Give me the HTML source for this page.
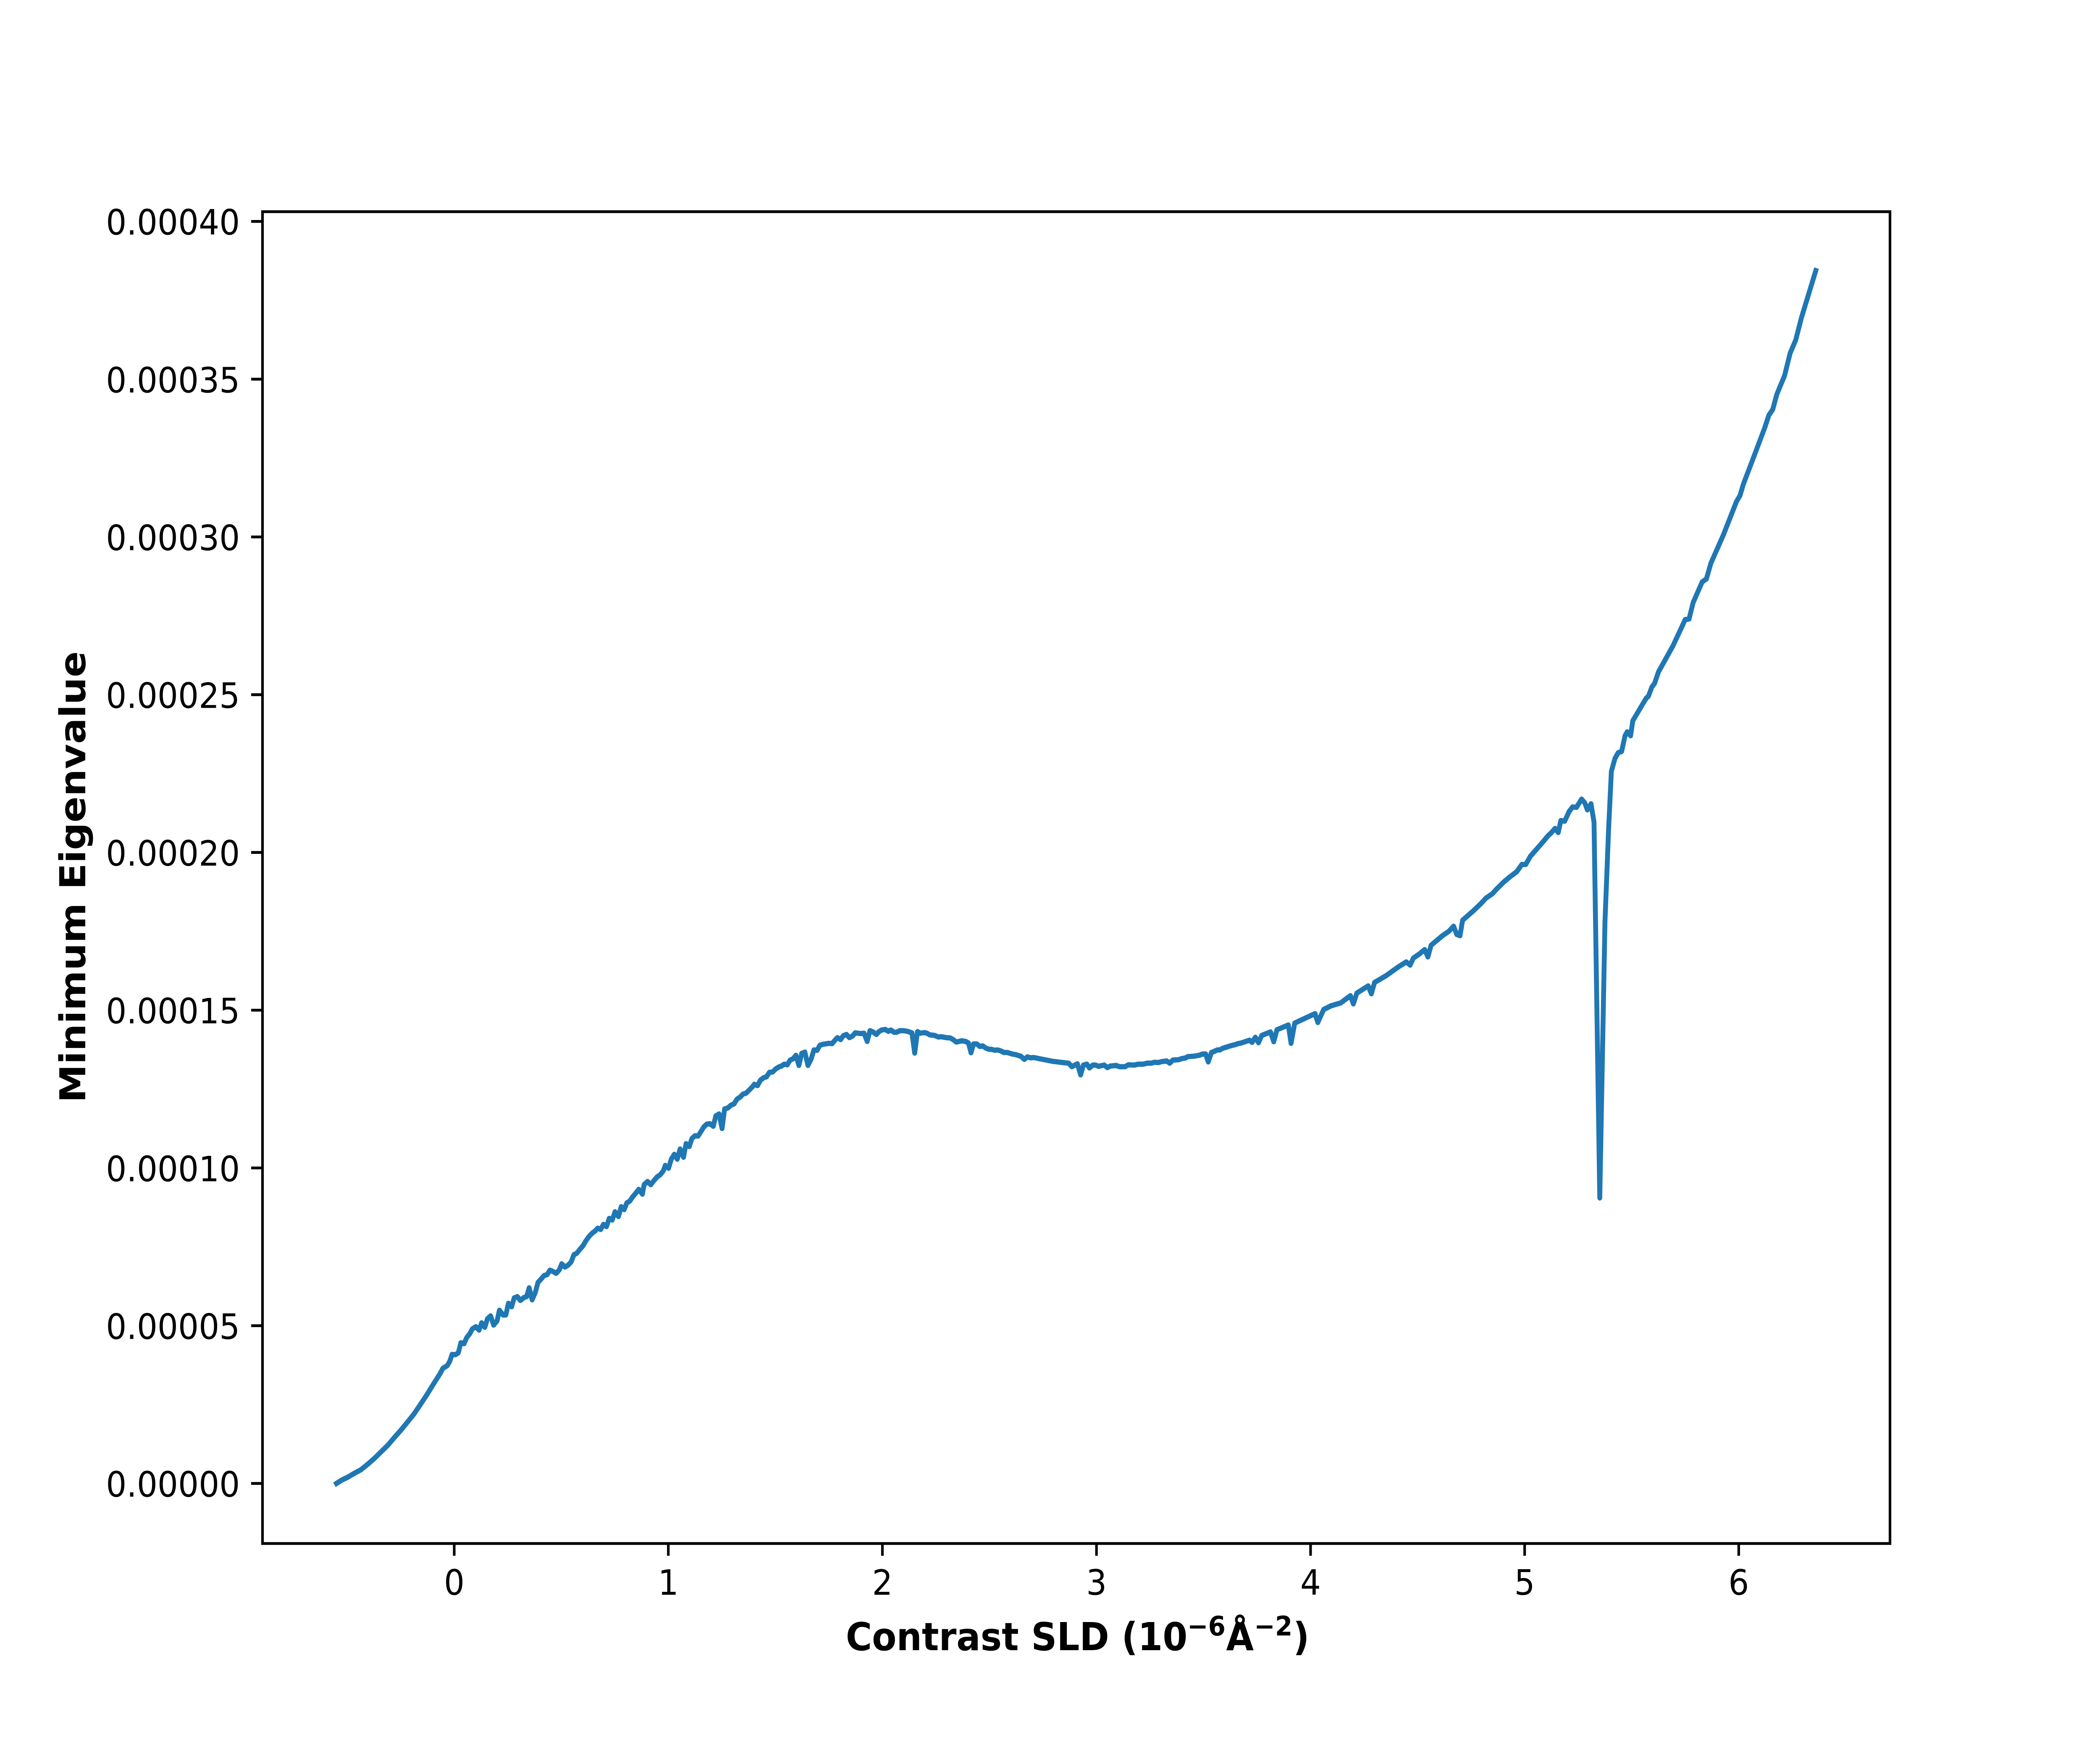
<!DOCTYPE html>
<html lang="en">
<head>
<meta charset="utf-8">
<title>Minimum Eigenvalue vs Contrast SLD</title>
<style>
html,body{margin:0;padding:0;background:#fff;width:100%;height:100%;overflow:hidden}
svg{position:absolute;left:0;top:0;display:block;width:100%;height:100%;overflow:hidden}
text{font-family:"DejaVu Sans","Liberation Sans",sans-serif;fill:#000}
</style>
</head>
<body>
<svg id="chart" xmlns="http://www.w3.org/2000/svg" viewBox="0 0 5400 4200" preserveAspectRatio="none">
<rect x="0" y="0" width="5400" height="4200" fill="#ffffff"/>
<g id="x-ticks"></g>
<g id="y-ticks"></g>
<path id="series" fill="none" stroke="#1f77b4" stroke-width="12.5" stroke-linejoin="round" stroke-linecap="square"/>
<rect x="675" y="504" width="4185" height="3171" fill="none" stroke="#000" stroke-width="6.67" stroke-linejoin="miter"/>
<text y="3929" font-size="91.67" font-weight="700"><tspan x="2175">Contrast SLD (10</tspan><tspan x="3053" dy="-35" font-size="64.17">−6</tspan><tspan x="3153" dy="35">Å</tspan><tspan x="3225" dy="-35" font-size="64.17">−2</tspan><tspan x="3325" dy="35">)</tspan></text>
<text transform="translate(219,2088) rotate(-90)" text-anchor="middle" font-size="91.67" font-weight="700">Minimum Eigenvalue</text>
</svg>
<script>
const xTickValues = [0, 1, 2, 3, 4, 5, 6];
const xTickLabels = ["0", "1", "2", "3", "4", "5", "6"];
const yTickValues = [0, 5, 10, 15, 20, 25, 30, 35, 40];
const yTickLabels = ["0.00000", "0.00005", "0.00010", "0.00015", "0.00020", "0.00025", "0.00030", "0.00035", "0.00040"];
const contrastSld = [
-0.55,-0.527,-0.497,-0.467,-0.437,-0.402,-0.369,-0.309,-0.279,-0.249,-0.219,-0.188,-0.158,-0.128,-0.098,-0.068,-0.053,
-0.033,-0.021,-0.010,0.005,0.019,0.031,0.046,0.058,0.073,0.085,0.101,0.116,0.128,0.143,0.155,0.170,0.184,0.200,0.211,0.228,
0.241,0.253,0.268,0.280,0.295,0.309,0.325,0.338,0.350,0.364,0.379,0.391,0.406,0.420,0.434,0.447,0.461,0.476,0.491,0.502,
0.517,0.532,0.546,0.559,0.573,0.588,0.601,0.615,0.630,0.644,0.658,0.670,0.684,0.697,0.711,0.724,0.738,0.751,0.767,0.780,
0.794,0.806,0.820,0.833,0.848,0.862,0.879,0.887,0.903,0.918,0.933,0.947,0.963,0.976,0.986,1.001,1.014,1.028,1.042,1.055,
1.071,1.083,1.098,1.110,1.124,1.139,1.153,1.166,1.180,1.195,1.210,1.222,1.237,1.251,1.263,1.278,1.293,1.307,1.321,1.336,
1.349,1.363,1.378,1.391,1.402,1.417,1.430,1.445,1.459,1.472,1.487,1.502,1.517,1.528,1.542,1.556,1.569,1.583,1.596,1.610,
1.623,1.638,1.652,1.667,1.680,1.695,1.708,1.724,1.751,1.765,1.781,
1.790,1.805,1.817,1.832,1.846,1.860,1.873,1.899,1.914,1.929,1.942,1.956,1.972,1.984,1.996,2.013,2.028,2.040,2.054,2.066,
2.081,2.099,2.117,2.138,2.151,2.164,2.177,2.196,2.208,2.221,2.244,2.262,2.274,2.299,2.317,2.332,2.345,2.371,2.389,2.402,
2.414,2.426,2.441,2.455,2.468,2.483,2.498,2.510,2.525,2.538,2.553,2.568,2.583,2.607,2.623,2.647,2.663,2.677,2.692,2.707,
2.735,2.765,
2.795,2.843,2.870,2.885,2.911,2.926,2.939,2.955,2.967,2.983,2.995,3.010,3.036,3.051,3.065,3.092,3.107,3.134,3.149,3.177,
3.195,3.219,3.237,3.256,3.271,3.289,3.304,3.328,3.342,3.357,3.383,3.401,3.413,3.428,3.453,3.480,3.495,3.510,3.522,3.537,
3.549,3.564,3.576,3.589,3.607,3.631,3.649,3.661,3.676,3.715,3.727,
3.742,3.757,3.772,3.813,3.828,3.843,3.896,3.909,3.926,3.976,4.021,4.034,4.061,4.096,4.141,4.186,4.200,4.216,4.269,
4.284,4.299,4.352,4.412,4.447,4.465,4.480,4.510,4.533,4.548,4.563,4.616,4.646,4.668,4.683,4.698,4.710,4.759,4.796,4.819,
4.849,4.872,4.902,4.930,4.963,4.987,5.005,5.027,5.090,5.108,5.124,5.142,5.157,5.169,5.187,5.208,5.224,5.242,5.266,5.281,
5.293,5.310,5.324,5.351,5.375,5.392,5.405,5.422,5.437,5.453,5.469,5.479,5.495,5.505,5.552,5.568,5.578,5.594,5.607,5.625,
5.693,5.750,5.768,5.787,5.829,5.849,5.870,5.928,5.990,6.006,6.021,6.068,6.121,6.141,6.159,6.178,6.214,6.240,6.266,6.293,6.360
];
const minEigenvalueE5 = [
0,0.10,0.20,0.32,0.43,0.62,0.82,1.22,1.46,1.69,1.94,2.20,2.50,2.81,3.14,3.46,3.65,
3.73,3.87,4.09,4.08,4.14,4.46,4.43,4.62,4.75,4.90,4.97,4.86,5.09,4.95,5.22,5.31,5.02,5.15,5.49,5.34,
5.34,5.71,5.60,5.88,5.92,5.80,5.89,5.92,6.20,5.82,6.06,6.37,6.48,6.59,6.62,6.76,6.72,6.66,6.77,6.96,
6.86,6.92,7.02,7.25,7.30,7.43,7.53,7.69,7.83,7.93,8.00,8.09,8.05,8.21,8.14,8.40,8.35,8.61,8.46,8.77,
8.68,8.89,8.95,9.08,9.20,9.32,9.17,9.47,9.57,9.47,9.60,9.71,9.79,9.90,10.08,9.99,10.28,10.43,10.28,10.60,
10.34,10.77,10.68,10.93,11.02,11.01,11.16,11.30,11.39,11.40,11.32,11.65,11.71,11.25,11.87,11.90,11.99,12.03,12.18,12.25,
12.34,12.37,12.47,12.56,12.65,12.61,12.78,12.86,12.89,13.03,13.04,13.14,13.20,13.23,13.29,13.27,13.42,13.46,13.57,13.25,
13.63,13.67,13.25,13.45,13.74,13.73,13.89,13.92,13.95,13.94,14.07,
14.13,14.07,14.19,14.23,14.13,14.18,14.28,14.26,14.27,14.01,14.35,14.31,14.23,14.32,14.37,14.39,14.33,14.37,14.30,14.30,
14.35,14.35,14.33,14.28,13.64,14.32,14.27,14.29,14.27,14.22,14.20,14.15,14.16,14.13,14.12,14.06,13.99,14.03,14.01,13.96,
13.65,13.93,13.93,13.85,13.87,13.80,13.76,13.76,13.73,13.74,13.71,13.66,13.66,13.61,13.59,13.54,13.44,13.52,13.49,13.50,
13.46,13.42,
13.38,13.34,13.32,13.21,13.30,12.95,13.26,13.29,13.17,13.26,13.26,13.22,13.26,13.18,13.23,13.25,13.21,13.21,13.27,13.26,
13.29,13.29,13.32,13.32,13.35,13.34,13.37,13.39,13.32,13.42,13.43,13.47,13.48,13.53,13.54,13.57,13.61,13.61,13.36,13.66,
13.69,13.74,13.74,13.79,13.83,13.88,13.91,13.94,13.96,14.05,13.98,
14.14,13.97,14.20,14.31,14.00,14.38,14.53,13.95,14.59,14.75,14.89,14.61,15.02,15.14,15.23,15.46,15.20,15.54,15.77,
15.52,15.88,16.09,16.38,16.53,16.43,16.65,16.79,16.92,16.69,17.06,17.36,17.50,17.66,17.40,17.36,17.85,18.14,18.38,18.55,
18.69,18.86,19.06,19.22,19.39,19.62,19.62,19.88,20.37,20.52,20.62,20.76,20.63,21.01,20.99,21.30,21.44,21.43,21.69,21.57,
21.35,21.54,20.96,9.05,17.78,20.71,22.57,22.98,23.16,23.20,23.70,23.82,23.70,24.17,24.71,24.89,24.95,25.24,25.36,25.72,
26.55,27.38,27.40,27.92,28.57,28.67,29.17,30.06,31.13,31.31,31.66,32.50,33.45,33.86,34.04,34.52,35.11,35.82,36.24,36.95,38.44
];

const SVG_NS = "http://www.w3.org/2000/svg";
const plotLeft = 675, plotRight = 4860, plotTop = 504, plotBottom = 3675;
const xDomainMin = -0.8956, xDomainMax = 6.7066;
const yDomainMin = -1.9036, yDomainMax = 40.309;

function xScale(v) {
  return plotLeft + (v - xDomainMin) / (xDomainMax - xDomainMin) * (plotRight - plotLeft);
}
function yScale(v) {
  return plotBottom - (v - yDomainMin) / (yDomainMax - yDomainMin) * (plotBottom - plotTop);
}

const xGroup = document.getElementById("x-ticks");
xTickValues.forEach(function (v, i) {
  const px = xScale(v);
  const mark = document.createElementNS(SVG_NS, "line");
  
  
  mark.setAttribute("x1", px);
  mark.setAttribute("x2", px);
  mark.setAttribute("y1", plotBottom);
  mark.setAttribute("y2", plotBottom + 29.2);
  mark.setAttribute("stroke", "#000");
  mark.setAttribute("stroke-width", "6.67");
  xGroup.appendChild(mark);
  const label = document.createElementNS(SVG_NS, "text");
  
  
  label.setAttribute("x", px);
  label.setAttribute("y", 3797);
  label.setAttribute("text-anchor", "middle");
  label.setAttribute("font-size", "83.33");
  label.textContent = xTickLabels[i];
  xGroup.appendChild(label);
});

const yGroup = document.getElementById("y-ticks");
yTickValues.forEach(function (v, i) {
  const py = yScale(v);
  const mark = document.createElementNS(SVG_NS, "line");
  
  
  mark.setAttribute("x1", plotLeft - 29.2);
  mark.setAttribute("x2", plotLeft);
  mark.setAttribute("y1", py);
  mark.setAttribute("y2", py);
  mark.setAttribute("stroke", "#000");
  mark.setAttribute("stroke-width", "6.67");
  yGroup.appendChild(mark);
  const label = document.createElementNS(SVG_NS, "text");
  
  
  label.setAttribute("x", 617);
  label.setAttribute("y", py + 31.5);
  label.setAttribute("text-anchor", "end");
  label.setAttribute("font-size", "83.33");
  label.textContent = yTickLabels[i];
  yGroup.appendChild(label);
});

let pathData = "";
contrastSld.forEach(function (v, i) {
  pathData += (i === 0 ? "M" : "L") + xScale(v).toFixed(1) + " " + yScale(minEigenvalueE5[i]).toFixed(1);
});
document.getElementById("series").setAttribute("d", pathData);
</script>
</body>
</html>
